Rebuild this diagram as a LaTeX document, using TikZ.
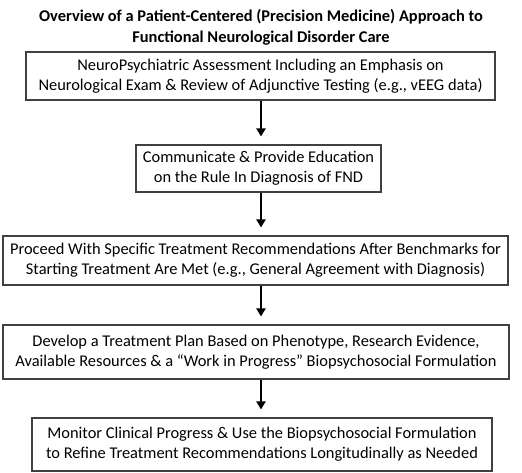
\documentclass[tikz,border=0pt]{standalone}
\usepackage{fontspec}
\setmainfont{Carlito}
\usetikzlibrary{arrows.meta,calc}
\begin{document}
\begin{tikzpicture}[x=1pt,y=-1pt,
  stepbox/.style={draw=black!75,line width=1.1pt,align=center,inner sep=0pt,
    font=\fontsize{16.4}{20}\selectfont},
  arr/.style={line width=2.4pt,-{Triangle[width=9pt,length=8pt]},shorten >=8pt}]
\useasboundingbox (0,0) rectangle (522,473);
\node[font=\bfseries\fontsize{16.4}{21}\selectfont,align=center] (title) at (261,27)
  {Overview of a Patient-Centered (Precision Medicine) Approach to\\Functional Neurological Disorder Care};
\node[stepbox,minimum width=469pt,minimum height=48pt] (b1) at (260.5,76)
  {NeuroPsychiatric Assessment Including an Emphasis on\\Neurological Exam \& Review of Adjunctive Testing (e.g., vEEG data)};
\node[stepbox,minimum width=245pt,minimum height=47pt] (b2) at (258.5,168.5)
  {Communicate \& Provide Education\\on the Rule In Diagnosis of FND};
\node[stepbox,minimum width=505pt,minimum height=49pt] (b3) at (255.5,260.5)
  {Proceed With Specific Treatment Recommendations After Benchmarks for\\Starting Treatment Are Met (e.g., General Agreement with Diagnosis)};
\node[stepbox,minimum width=506pt,minimum height=54pt] (b4) at (256,352)
  {Develop a Treatment Plan Based on Phenotype, Research Evidence,\\Available Resources \& a “Work in Progress” Biopsychosocial Formulation};
\node[stepbox,minimum width=460pt,minimum height=53pt] (b5) at (262,444.5)
  {Monitor Clinical Progress \& Use the Biopsychosocial Formulation\\to Refine Treatment Recommendations Longitudinally as Needed};
\coordinate (ax) at (261,0);
\draw[arr] (b1.south -| ax) -- (b2.north -| ax);
\draw[arr] (b2.south -| ax) -- (b3.north -| ax);
\draw[arr] (b3.south -| ax) -- (b4.north -| ax);
\draw[arr] (b4.south -| ax) -- (b5.north -| ax);
\end{tikzpicture}
\end{document}
